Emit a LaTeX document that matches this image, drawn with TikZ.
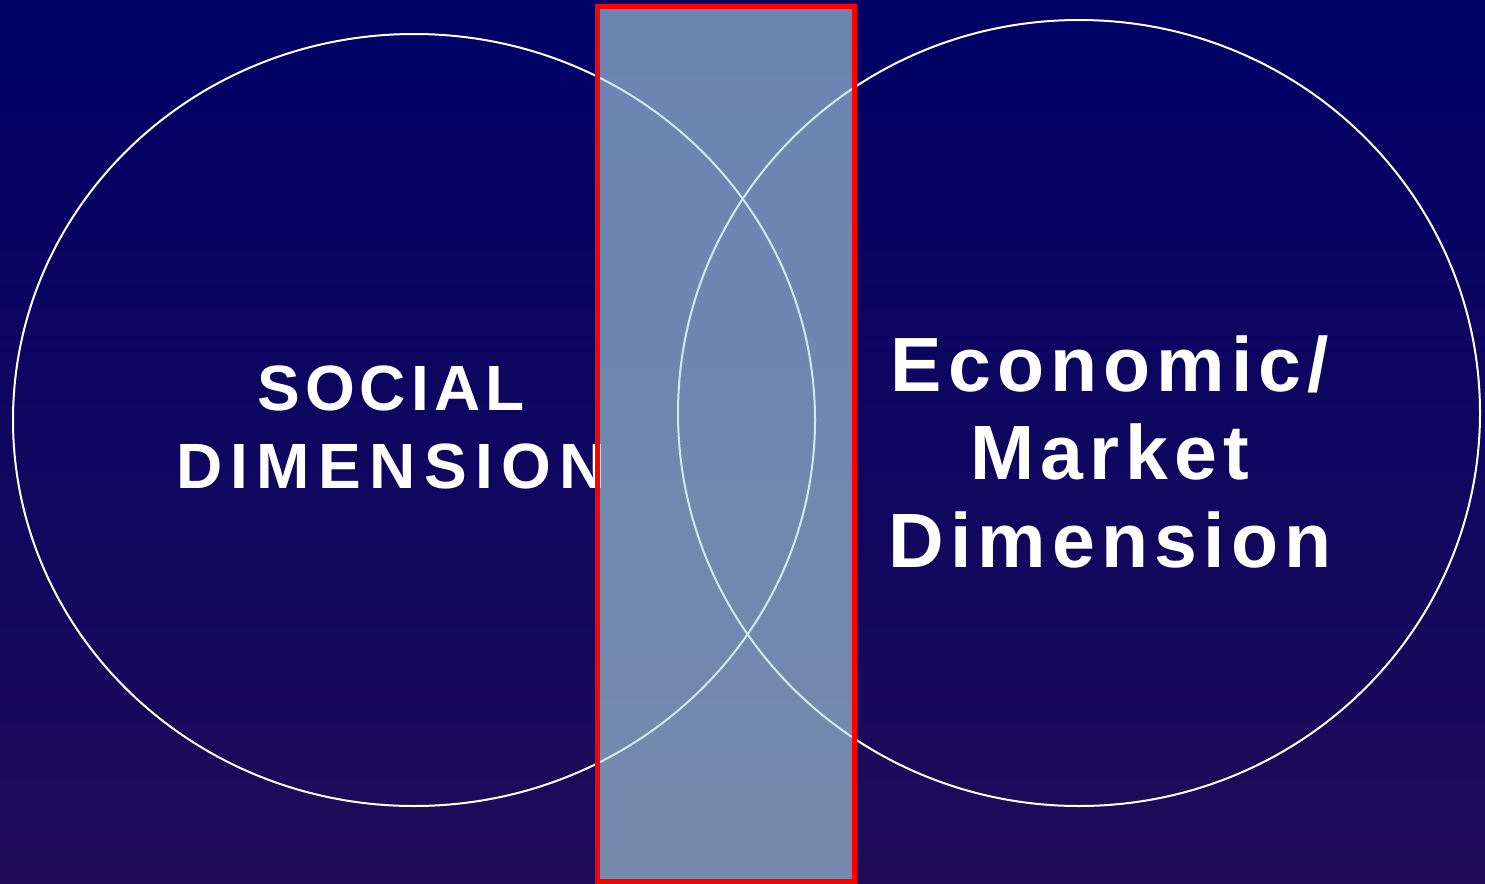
\documentclass[tikz,border=0pt]{standalone}
\usepackage{fontspec}
\newfontfamily\socialfont{Liberation Sans}[LetterSpace=13]
\newfontfamily\socialtight{Liberation Sans}[LetterSpace=8]
\newfontfamily\marketfont{Liberation Sans}[LetterSpace=8]

\definecolor{navytop}{RGB}{0,0,102}
\definecolor{navymid}{RGB}{20,0,100}
\definecolor{navybot}{RGB}{30,12,88}
\definecolor{overlap}{RGB}{178,222,230}

\tikzset{
  ring/.style={draw=white, line width=2pt},
  dimlabel/.style={text=white, align=center, inner sep=0pt},
}

\begin{document}
\begin{tikzpicture}[x=1pt, y=-1pt]

% Background
\shade[top color=navytop, middle color=navymid, bottom color=navybot] (0,0) rectangle (1485,883);
\useasboundingbox (0,0) rectangle (1485,883);

% The two dimensions
\draw[ring] (414,420) ellipse [x radius=401, y radius=386];
\draw[ring] (1079,413) ellipse [x radius=401, y radius=393];

% Labels
\node[dimlabel, font=\socialfont\bfseries\fontsize{64}{78}\selectfont] (social) at (391,427) {{\socialtight\bfseries SOCIAL}\\DIMENSION};
\node[dimlabel, font=\marketfont\bfseries\fontsize{77}{88}\selectfont] (market) at (1110,452) {Economic/\\Market\\Dimension};

% Shared zone between them
\draw[red, line width=5pt, fill=overlap, fill opacity=0.6] (597.5,6.5) rectangle (854,881);

\end{tikzpicture}
\end{document}
